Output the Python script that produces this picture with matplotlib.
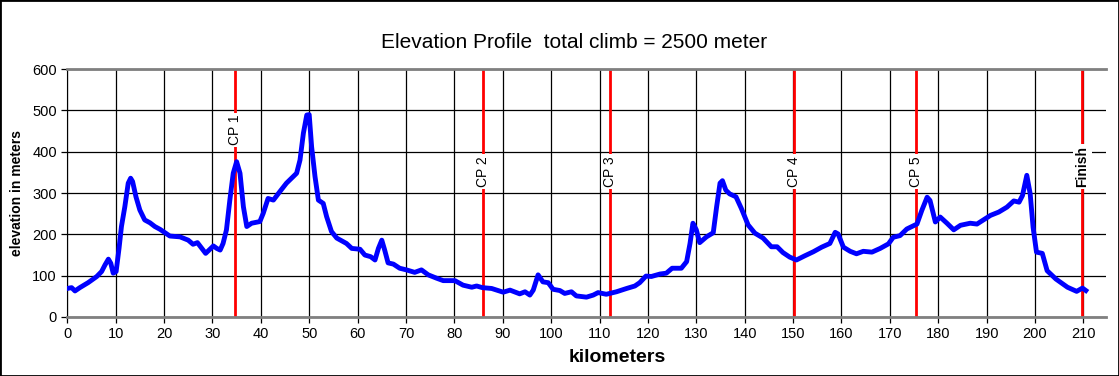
import matplotlib.pyplot as plt
import numpy as np

plt.rcParams['font.family'] = ['Liberation Sans', 'DejaVu Sans']

# elevation profile
km = [0.0, 0.9, 1.6, 2.6, 4.3, 6.1, 7.1, 7.8, 8.5, 9.0, 9.5, 10.1, 10.7, 11.2, 11.9,
      12.6, 13.1, 13.5, 14.2, 15.0, 16.0, 17.1, 18.1, 19.2, 20.2, 21.2, 23.3, 25.0,
      26.0, 26.9, 27.8, 28.6, 29.3, 30.2, 30.9, 31.6, 32.2, 32.9, 33.6, 34.3, 35.0,
      35.7, 36.4, 37.1, 38.1, 39.8, 40.5, 41.5, 42.6, 43.9, 45.3, 47.4, 48.1, 48.8,
      49.5, 50.0, 50.5, 51.2, 51.9, 52.9, 53.6, 54.6, 55.7, 57.7, 58.8, 60.5, 61.5,
      62.7, 63.6, 64.3, 65.0, 65.6, 66.3, 67.4, 68.7, 70.1, 71.8, 73.2, 74.6, 76.3,
      77.7, 80.1, 81.8, 83.6, 84.6, 85.8, 87.7, 90.1, 91.5, 93.5, 94.6, 95.6, 96.3,
      97.3, 98.3, 99.4, 100.4, 101.8, 102.8, 104.2, 105.2, 107.3, 108.7, 109.7,
      111.4, 113.5, 115.6, 117.3, 118.3, 119.6, 120.7, 122.5, 123.8, 125.0, 126.9,
      128.0, 128.7, 129.3, 130.0, 130.7, 132.1, 133.5, 134.2, 134.9, 135.4, 136.1,
      136.9, 138.2, 139.3, 140.7, 142.1, 143.8, 145.5, 146.7, 147.9, 149.3, 150.7,
      152.4, 154.2, 155.9, 157.6, 158.7, 159.3, 160.4, 161.8, 163.1, 164.5, 166.3,
      168.0, 169.7, 170.7, 172.1, 173.5, 175.6, 176.6, 177.7, 178.3, 179.4, 180.4,
      181.8, 183.2, 184.6, 186.6, 188.0, 190.8, 192.5, 194.2, 195.6, 196.7, 197.4,
      198.3, 199.0, 199.6, 200.3, 201.5, 202.5, 204.3, 206.7, 208.6, 209.8, 210.5]
elev = [69, 71, 63, 71, 83, 98, 110, 126, 140, 130, 106, 110, 166, 219, 267,
        324, 336, 328, 291, 259, 235, 228, 219, 212, 204, 196, 194, 186,
        176, 180, 166, 154, 162, 172, 166, 162, 178, 211, 283, 348, 376,
        348, 267, 219, 227, 231, 251, 287, 283, 303, 324, 348, 380, 445,
        489, 490, 412, 340, 283, 275, 243, 207, 191, 178, 166, 164, 150,
        146, 138, 166, 186, 162, 131, 128, 118, 114, 108, 114, 102, 94,
        88, 88, 77, 72, 75, 71, 69, 60, 65, 56, 61, 53, 65,
        102, 85, 83, 67, 64, 57, 61, 51, 48, 53, 59,
        55, 61, 69, 75, 83, 99, 98, 104, 106, 118, 118,
        134, 178, 227, 211, 180, 194, 204, 267, 324, 330, 307,
        298, 291, 263, 223, 203, 191, 170, 170, 156, 145, 138,
        148, 158, 169, 178, 205, 201, 169, 159, 153, 159, 157,
        166, 177, 193, 197, 213, 225, 258, 290, 282, 230, 242,
        227, 211, 222, 227, 225, 246, 254, 266, 281, 278, 294,
        343, 298, 217, 157, 154, 112, 92, 72, 62, 70, 64]

cp_km = [34.6, 85.9, 112.1, 150.1, 175.3, 209.8]
cp_names = ['CP 1', 'CP 2', 'CP 3', 'CP 4', 'CP 5', 'Finish']
cp_label_y = [416, 315, 315, 315, 315, 315]

fig = plt.figure(figsize=(11.19, 3.76), dpi=100)
ax = fig.add_axes([0.0601, 0.157, 0.928, 0.659])

ax.set_xlim(0, 214.6)
ax.set_ylim(0, 600)
ax.set_xticks(np.arange(0, 211, 10))
ax.set_yticks(np.arange(0, 601, 100))
ax.grid(True, color='black', linewidth=0.9)
ax.set_axisbelow(True)
ax.tick_params(labelsize=10.5, length=4, width=0.9, colors='black')

for s in ['top', 'bottom']:
    ax.spines[s].set_color('#808080')
    ax.spines[s].set_linewidth(2)
ax.spines['right'].set_visible(False)
ax.spines['left'].set_color('black')

for x, name, ly in zip(cp_km, cp_names, cp_label_y):
    ax.axvline(x, color='red', linewidth=2, zorder=2)
    ax.text(x, ly, name, rotation=90, ha='center', va='bottom', fontsize=10,
            fontweight='bold' if name == 'Finish' else 'normal',
            bbox=dict(facecolor='white', edgecolor='none', pad=1.5), zorder=4)

ax.plot(km, elev, color='blue', linewidth=3.5, zorder=3, solid_joinstyle='round')

ax.set_xlabel('kilometers', fontsize=14, fontweight='bold')
ax.xaxis.set_label_coords(0.53, -0.13)
ax.set_ylabel('elevation in meters', fontsize=10, fontweight='bold', labelpad=6)
fig.text(0.513, 0.887, 'Elevation Profile  total climb = 2500 meter', ha='center',
         va='center', fontsize=15)

fig.patches.append(plt.Rectangle((0, 0), 1, 1, transform=fig.transFigure,
                                 fill=False, edgecolor='black', linewidth=2))

fig.savefig('out.png', dpi=100)
